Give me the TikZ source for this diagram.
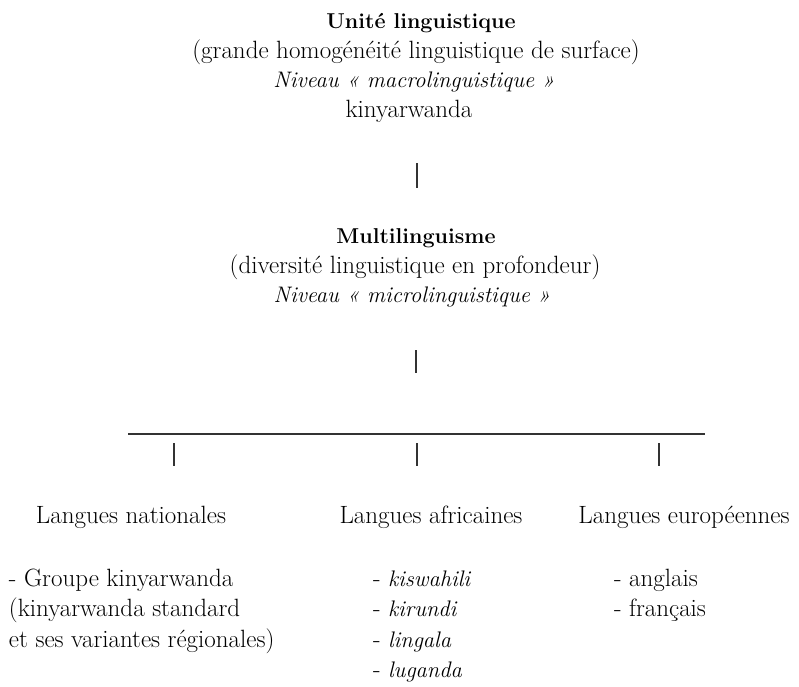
\documentclass[tikz,border=0pt]{standalone}
\begin{document}
\begin{tikzpicture}[x=1pt,y=-1pt,
  txt/.style={inner sep=0pt,outer sep=0pt,font=\fontsize{25}{30}\selectfont},
  ctr/.style={txt,anchor=base},
  lft/.style={txt,anchor=base west},
  ttl/.style={ctr,font=\fontsize{21.5}{30}\selectfont\bfseries},
  itl/.style={font=\fontsize{22.5}{30}\selectfont\itshape},
  bar/.style={draw=black!80,line width=1.2pt}]
\useasboundingbox (0,0) rectangle (799,686);
% top block
\node[ttl] (u1) at (421,28) {Unité linguistique};
\node[ctr] (u2) at (416,58) {(grande homogénéité linguistique de surface)};
\node[ctr,itl] (u3) at (414,87) {Niveau «~macrolinguistique~»};
\node[ctr] (u4) at (409,117) {kinyarwanda};
% middle block
\node[ttl] (m1) at (416,243) {Multilinguisme};
\node[ctr] (m2) at (415,273) {(diversité linguistique en profondeur)};
\node[ctr,itl] (m3) at (412,302) {Niveau «~microlinguistique~»};
% bars
\coordinate (b1t) at (417,163); \coordinate (b1b) at (417,188);
\coordinate (b2t) at (416,350); \coordinate (b2b) at (416,373);
\coordinate (hl) at (128,434); \coordinate (hr) at (705,434);
\coordinate (c1t) at (174,443); \coordinate (c1b) at (174,466);
\coordinate (c2t) at (417,443); \coordinate (c2b) at (417,466);
\coordinate (c3t) at (659,443); \coordinate (c3b) at (659,466);
\draw[bar] (b1t) -- (b1b);
\draw[bar] (b2t) -- (b2b);
\draw[bar] (hl) -- (hr);
\draw[bar] (c1t) -- (c1b);
\draw[bar] (c2t) -- (c2b);
\draw[bar] (c3t) -- (c3b);
% column heads
\node[ctr] (n0) at (131,523) {Langues nationales};
\node[ctr] (a0) at (431,523) {Langues africaines};
\node[ctr] (e0) at (684,523) {Langues européennes};
% lists
\node[lft] (n1) at (9,586) {- Groupe kinyarwanda};
\node[lft] (n2) at (9,616) {(kinyarwanda standard};
\node[lft] (n3) at (9,647) {et ses variantes régionales)};
\node[lft] (a1) at (373,586) {- {\fontsize{22.5}{30}\selectfont\itshape kiswahili}};
\node[lft] (a2) at (373,616) {- {\fontsize{22.5}{30}\selectfont\itshape kirundi}};
\node[lft] (a3) at (373,647) {- {\fontsize{22.5}{30}\selectfont\itshape lingala}};
\node[lft] (a4) at (373,677) {- {\fontsize{22.5}{30}\selectfont\itshape luganda}};
\node[lft] (e1) at (614,586) {- anglais};
\node[lft] (e2) at (614,616) {- français};
\end{tikzpicture}
\end{document}
